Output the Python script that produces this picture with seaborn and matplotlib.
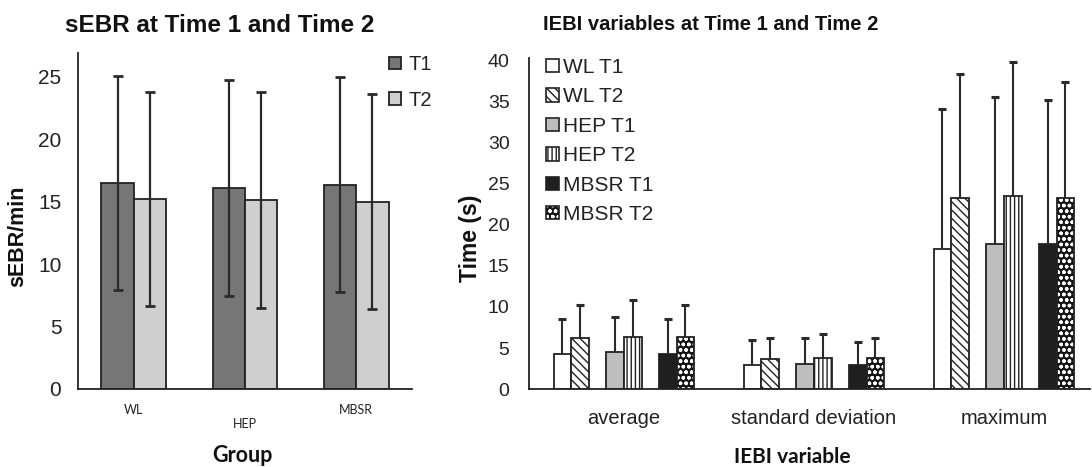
import numpy as np
import pandas as pd
import matplotlib
matplotlib.use("Agg")
import matplotlib.pyplot as plt
from matplotlib.patches import Patch, Rectangle
import seaborn as sns

# ---- sEBR per group (mean and SD) ----
groups = ["WL", "HEP", "MBSR"]
times = ["T1", "T2"]
sebr_t1 = [16.5, 16.1, 16.35]
sebr_t2 = [15.2, 15.1, 15.0]
sebr_t1_sd = [8.55, 8.65, 8.6]
sebr_t2_sd = [8.55, 8.65, 8.6]

# ---- IEBI variables (mean and SD, seconds) ----
iebi_vars = ["average", "standard deviation", "maximum"]
iebi_series = ["WL T1", "WL T2", "HEP T1", "HEP T2", "MBSR T1", "MBSR T2"]
wl_t1 = [4.3, 3.0, 17.0]
wl_t1_sd = [4.2, 3.0, 17.1]
wl_t2 = [6.2, 3.65, 23.2]
wl_t2_sd = [4.05, 2.55, 15.1]
hep_t1 = [4.5, 3.05, 17.7]
hep_t1_sd = [4.25, 3.15, 17.8]
hep_t2 = [6.4, 3.85, 23.5]
hep_t2_sd = [4.45, 2.85, 16.3]
mbsr_t1 = [4.3, 2.95, 17.7]
mbsr_t1_sd = [4.2, 2.8, 17.4]
mbsr_t2 = [6.4, 3.85, 23.2]
mbsr_t2_sd = [3.85, 2.35, 14.1]

sns.set_style("white")
plt.rcParams["font.family"] = ["Liberation Sans", "DejaVu Sans"]
plt.rcParams["hatch.linewidth"] = 1.0

INK = "#222222"
W, H = 1092, 467
fig = plt.figure(figsize=(W / 100, H / 100), dpi=100)


def fx(px):
    return px / W


def fy(py):
    return 1 - py / H


# ================= left panel: sEBR =================
ax1 = fig.add_axes([fx(78), fy(389), fx(412 - 78), (389 - 53) / H])

sebr_rows = []
for t, vals, sds in [("T1", sebr_t1, sebr_t1_sd), ("T2", sebr_t2, sebr_t2_sd)]:
    for g, v, s in zip(groups, vals, sds):
        sebr_rows.append({"group": g, "time": t, "value": v, "sd": s})
df_sebr = pd.DataFrame(sebr_rows)

sns.barplot(data=df_sebr, x="group", y="value", hue="time", order=groups,
            hue_order=times, palette={"T1": "#767676", "T2": "#cfcfcf"},
            width=0.58, errorbar=None, edgecolor=INK, linewidth=1.3,
            legend=False, ax=ax1)

bars1 = list(ax1.patches)
xc1 = [p.get_x() + p.get_width() / 2 for p in bars1]
ax1.errorbar(xc1, df_sebr["value"], yerr=df_sebr["sd"], fmt="none",
             ecolor="#2a2a2a", elinewidth=1.6, capsize=3.6, capthick=2.0,
             zorder=3)

ax1.set_xlim(-0.5, 2.5)
ax1.set_ylim(0, 26.9)
ax1.set_yticks([0, 5, 10, 15, 20, 25])
ax1.set_xticks([0, 1, 2])
ax1.set_xticklabels(["WL", "\nHEP", "MBSR"], family=["Lato", "DejaVu Sans"],
                    fontsize=9, color=INK, linespacing=1.2)
ax1.set_xticks([-0.5, 0.5, 1.5, 2.5], minor=True)
ax1.tick_params(axis="x", which="major", length=0, pad=11)
ax1.tick_params(axis="x", which="minor", length=5, width=1.2, color=INK,
                direction="out")
ax1.tick_params(axis="y", length=5, width=1.2, color=INK, direction="out",
                labelsize=15, labelcolor=INK, pad=7)
ax1.set_xlabel("")
ax1.set_ylabel("")
for side in ["top", "right"]:
    ax1.spines[side].set_visible(False)
for side in ["left", "bottom"]:
    ax1.spines[side].set_color(INK)
    ax1.spines[side].set_linewidth(1.3)

leg1_handles = [Patch(facecolor="#767676", edgecolor=INK, linewidth=1.3),
                Patch(facecolor="#cfcfcf", edgecolor=INK, linewidth=1.3)]
fig.legend(leg1_handles, times, loc="upper left",
           bbox_to_anchor=(fx(389), fy(55)), frameon=False, fontsize=14.5,
           handlelength=0.6, handleheight=0.6, handletextpad=0.35,
           labelspacing=0.82, borderpad=0, borderaxespad=0,
           labelcolor=INK)

fig.text(fx(220), fy(25), "sEBR at Time 1 and Time 2", ha="center",
         va="center", fontsize=17.5, fontweight="bold", color="#111111")
fig.text(fx(18), fy(236), "sEBR/min", ha="center", va="center",
         rotation=90, fontsize=15.5, fontweight="bold", color="#111111")
fig.text(fx(242), fy(455), "Group", ha="center", va="center",
         fontsize=15.5, fontweight="bold", family=["Lato", "DejaVu Sans"],
         color="#111111")

# ================= right panel: IEBI variables =================
ax2 = fig.add_axes([fx(529), fy(389.3), fx(1090 - 529), (389.3 - 58) / H])

series_vals = {
    "WL T1": (wl_t1, wl_t1_sd), "WL T2": (wl_t2, wl_t2_sd),
    "HEP T1": (hep_t1, hep_t1_sd), "HEP T2": (hep_t2, hep_t2_sd),
    "MBSR T1": (mbsr_t1, mbsr_t1_sd), "MBSR T2": (mbsr_t2, mbsr_t2_sd),
}
iebi_rows = []
for s in iebi_series:
    vals, sds = series_vals[s]
    for var, v, sd in zip(iebi_vars, vals, sds):
        iebi_rows.append({"variable": var, "series": s, "value": v, "sd": sd})
df_iebi = pd.DataFrame(iebi_rows)

# empty slots keep a gap between the three groups of bar pairs
hue_slots = ["WL T1", "WL T2", "gap a", "HEP T1", "HEP T2", "gap b",
             "MBSR T1", "MBSR T2"]
styles = {
    "WL T1": ("white", ""),
    "WL T2": ("white", "\\\\\\\\"),
    "HEP T1": ("#bebebe", ""),
    "HEP T2": ("white", "||||"),
    "MBSR T1": ("#1f1f1f", ""),
    "MBSR T2": ("#151515", "ooo"),
}
pal = {k: (styles[k][0] if k in styles else "white") for k in hue_slots}

sns.barplot(data=df_iebi, x="variable", y="value", hue="series",
            order=iebi_vars, hue_order=hue_slots, palette=pal, width=0.74,
            errorbar=None, edgecolor=INK, linewidth=1.3, legend=False, ax=ax2)

bars2 = list(ax2.patches)
xc2 = []
for p, (_, row) in zip(bars2, df_iebi.iterrows()):
    fc, hatch = styles[row["series"]]
    p.set_facecolor(fc)
    xc2.append(p.get_x() + p.get_width() / 2)
    if row["series"] == "MBSR T2":
        p.set_edgecolor("white")
        p.set_linewidth(0)
        p.set_hatch(hatch)
        ax2.add_patch(Rectangle((p.get_x(), 0), p.get_width(), p.get_height(),
                                fill=False, edgecolor=INK, linewidth=1.3,
                                zorder=p.get_zorder() + 0.1))
    elif hatch:
        p.set_hatch(hatch)
        p.set_edgecolor(INK)

vals2 = df_iebi["value"].to_numpy()
eb = ax2.errorbar(xc2, vals2, yerr=[np.zeros_like(vals2), df_iebi["sd"]],
                  fmt="none", ecolor="#2a2a2a", elinewidth=1.5, capsize=2.6,
                  capthick=2.2, zorder=3)
for cl in eb[1]:
    if np.allclose(cl.get_ydata(), vals2):
        cl.remove()

ax2.set_xlim(-0.5, 2.453)
ax2.set_ylim(0, 40.25)
ax2.set_yticks(range(0, 41, 5))
ax2.set_xticks([0, 1, 2])
ax2.set_xticklabels(iebi_vars, fontsize=14.5, color=INK)
ax2.set_xticks([0.5, 1.5], minor=True)
ax2.tick_params(axis="x", which="major", length=0, pad=14)
ax2.tick_params(axis="x", which="minor", length=5, width=1.2, color=INK,
                direction="out")
ax2.tick_params(axis="y", length=5, width=1.2, color=INK, direction="out",
                labelsize=14, labelcolor=INK, pad=9)
ax2.set_xlabel("")
ax2.set_ylabel("")
for side in ["top", "right"]:
    ax2.spines[side].set_visible(False)
for side in ["left", "bottom"]:
    ax2.spines[side].set_color(INK)
    ax2.spines[side].set_linewidth(1.3)

leg2_handles = []
for s in iebi_series:
    fc, hatch = styles[s]
    if s == "MBSR T2":
        leg2_handles.append((Patch(facecolor=fc, edgecolor="white", hatch=hatch,
                                   linewidth=0),
                             Patch(fill=False, edgecolor=INK, linewidth=1.2)))
    else:
        leg2_handles.append(Patch(facecolor=fc, edgecolor=INK, hatch=hatch,
                                  linewidth=1.2))
fig.legend(leg2_handles, iebi_series, loc="upper left",
           bbox_to_anchor=(fx(546), fy(58)), frameon=False, fontsize=15,
           handlelength=0.6, handleheight=0.6, handletextpad=0.2,
           labelspacing=0.5, borderpad=0, borderaxespad=0, labelcolor=INK)

fig.text(fx(711), fy(24), "IEBI variables at Time 1 and Time 2", ha="center",
         va="center", fontsize=14.5, fontweight="bold", color="#111111")
fig.text(fx(470), fy(238), "Time (s)", ha="center", va="center",
         rotation=90, fontsize=16.5, fontweight="bold", color="#111111")
fig.text(fx(792), fy(457), "IEBI variable", ha="center", va="center",
         fontsize=15, fontweight="bold", family=["Lato", "DejaVu Sans"],
         color="#111111")

fig.savefig("out.png", dpi=100)
